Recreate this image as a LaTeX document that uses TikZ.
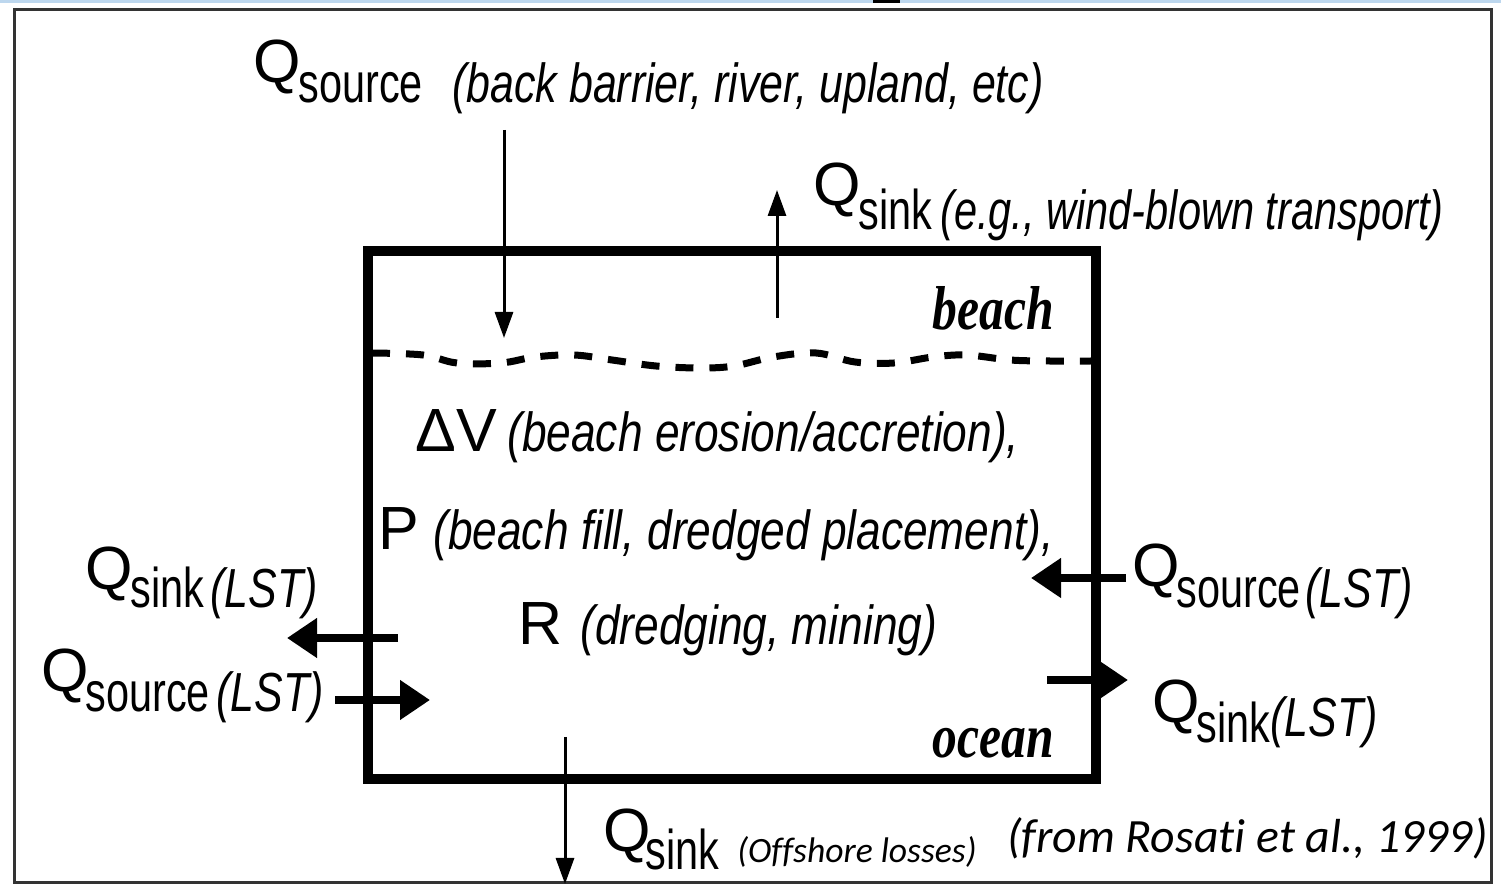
\documentclass[tikz,border=0pt]{standalone}
\usepackage{fontspec}
\usepackage{graphicx}
\usetikzlibrary{arrows.meta}
\setmainfont{Liberation Sans}
\newfontfamily\qf{Liberation Sans}
\newfontfamily\subf{Liberation Sans}[FakeStretch=0.74]
\newfontfamily\parf{Liberation Sans}[FakeStretch=0.78]
\newfontfamily\parwf{Liberation Sans}[FakeStretch=0.755]
\newfontfamily\parmf{Liberation Sans}[FakeStretch=0.805]
\newfontfamily\serf{Liberation Serif}[FakeStretch=0.8]
\newfontfamily\calf{Carlito}[Ligatures=NoCommon]
\definecolor{topblue}{HTML}{BDD7EE}
\begin{document}
\begin{tikzpicture}[x=0.5pt,y=-0.5pt,
  qtxt/.style={anchor=base west,inner sep=0pt,font=\qf\fontsize{30.5}{32}\selectfont},
  subtxt/.style={anchor=base west,inner sep=0pt,font=\subf\fontsize{28}{30}\selectfont},
  partxt/.style={anchor=base west,inner sep=0pt,font=\parf\itshape\fontsize{27.5}{30}\selectfont},
  parwtxt/.style={anchor=base west,inner sep=0pt,font=\parwf\itshape\fontsize{27.5}{30}\selectfont},
  parmtxt/.style={anchor=base west,inner sep=0pt,font=\parmf\itshape\fontsize{27.5}{30}\selectfont},
  zonetxt/.style={anchor=base west,inner sep=0pt,font=\serf\bfseries\itshape\fontsize{31}{32}\selectfont},
  citetxt/.style={anchor=base west,inner sep=0pt,font=\calf\itshape\fontsize{23.9}{26}\selectfont},
  offtxt/.style={anchor=base west,inner sep=0pt,font=\calf\itshape\fontsize{17.8}{20}\selectfont},
  thinarrow/.style={line width=1.5pt,-{Triangle[length=13pt,width=9pt]}},
  thickarrow/.style={line width=4pt,-{Triangle[length=15pt,width=19pt]}},
  boxline/.style={line width=5pt},
  shoreline/.style={line width=3.5pt,dash pattern=on 9pt off 8pt},
  frameline/.style={line width=1.5pt,draw=black!80}
]
\useasboundingbox (0,0) rectangle (1501,886);
% top strip
\fill[topblue] (0,0) rectangle (1501,3);
\fill[black] (873,0) rectangle (900,3);
% outer frame
\draw[frameline] (14,10) rectangle (1491,883);
% box
\coordinate (bxNW) at (368,251);
\coordinate (bxSE) at (1096,779);
\draw[boxline] (bxNW) rectangle (bxSE);
% shoreline
\draw[shoreline] plot[smooth,tension=0.6] coordinates {(372,353) (423,355) (457,363) (501,363) (535,357) (574,355) (612,360) (656,366) (700,368) (734,366) (773,357) (816,353) (855,362) (894,363) (933,357) (967,355) (1010,360) (1049,361) (1092,361)};
% zone labels
\node[zonetxt] (beach) at (932,330) {beach};
\node[zonetxt] (ocean) at (932,758) {ocean};
% top source
\node[qtxt] (qtop) at (253,83) {Q};
\node[subtxt] (qtopsub) at (298,103) {source};
\node[partxt] (qtoptxt) at (452,103) {(back barrier, river, upland, etc)};
\coordinate (a1s) at (504,130);
\coordinate (a1e) at (504,338);
\draw[thinarrow] (a1s) -- (a1e);
% wind sink
\node[qtxt] (qwind) at (813,206) {Q};
\node[subtxt] (qwindsub) at (858,230) {sink};
\node[parwtxt] (qwindtxt) at (940,230) {(e.g., wind-blown transport)};
\coordinate (a2s) at (777,318);
\coordinate (a2e) at (777,190);
\draw[thinarrow] (a2s) -- (a2e);
% middle terms
\node[qtxt] (dv) at (415,452) {ΔV};
\node[parmtxt] (dvtxt) at (507,452) {(beach erosion/accretion),};
\node[qtxt] (pp) at (378,550) {P};
\node[parmtxt] (pptxt) at (433,550) {(beach fill, dredged placement),};
\node[qtxt] (rr) at (518,645) {R};
\node[parmtxt] (rrtxt) at (580,645) {(dredging, mining)};
% left
\node[qtxt] (qls) at (85,590) {Q};
\node[subtxt] (qlssub) at (130,608) {sink};
\node[partxt] (qlstxt) at (210,608) {(LST)};
\node[qtxt] (qlo) at (41,692) {Q};
\node[subtxt] (qlosub) at (85,712) {source};
\node[partxt] (qlotxt) at (216,712) {(LST)};
\coordinate (a3s) at (398,638);
\coordinate (a3e) at (287,638);
\draw[thickarrow] (a3s) -- (a3e);
\coordinate (a4s) at (335,700);
\coordinate (a4e) at (430,700);
\draw[thickarrow] (a4s) -- (a4e);
% right
\node[qtxt] (qro) at (1132,587) {Q};
\node[subtxt] (qrosub) at (1176,608) {source};
\node[partxt] (qrotxt) at (1305,608) {(LST)};
\node[qtxt] (qrs) at (1152,723) {Q};
\node[subtxt] (qrssub) at (1196,743) {sink};
\node[partxt] (qrstxt) at (1270,737) {(LST)};
\coordinate (a5s) at (1126,578);
\coordinate (a5e) at (1031,578);
\draw[thickarrow] (a5s) -- (a5e);
\coordinate (a6s) at (1047,680);
\coordinate (a6e) at (1128,680);
\draw[thickarrow] (a6s) -- (a6e);
% bottom
\node[qtxt] (qbot) at (603,852) {Q};
\node[subtxt] (qbotsub) at (645,870) {sink};
\node[offtxt] (qbottxt) at (737,863) {(Offshore losses)};
\coordinate (a7s) at (565,737);
\coordinate (a7e) at (565,884);
\draw[thinarrow] (a7s) -- (a7e);
% citation
\node[citetxt] (cite) at (1007,853) {(from Rosati et al., 1999)};
\end{tikzpicture}
\end{document}
